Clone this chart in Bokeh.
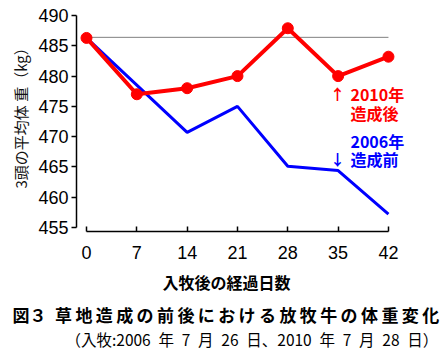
from bokeh.plotting import figure
from bokeh.models import Range1d, FixedTicker, Label, Title
from bokeh.embed import file_html
from bokeh.resources import INLINE

# ---- data ----
days_2010 = [0, 7, 14, 21, 28, 35, 42]
weight_2010 = [486.3, 477.0, 478.0, 480.0, 487.9, 480.0, 483.2]
days_2006 = [0, 14, 21, 28, 35, 42]
weight_2006 = [486.3, 470.7, 475.0, 465.1, 464.4, 457.2]
ref_days = [0, 42]
ref_weight = [486.4, 486.4]
x_ticks = [0, 7, 14, 21, 28, 35, 42]
y_ticks = [455, 460, 465, 470, 475, 480, 485, 490]

W, H = 441, 356
p = figure(width=W, height=H, output_backend="svg", toolbar_location=None,
           x_range=Range1d(-1.39, 44.51), y_range=Range1d(454.34, 490.83),
           min_border_left=76, min_border_right=35, min_border_top=10, min_border_bottom=125)
p.outline_line_color = None
p.xgrid.visible = False
p.ygrid.visible = False
p.background_fill_color = "white"
p.border_fill_color = "white"

cjk = "Noto Sans CJK JP"
num = "Liberation Sans"

xa = p.xaxis[0]
xa.ticker = FixedTicker(ticks=x_ticks)
xa.bounds = (0, 42)
xa.major_tick_in = 5
xa.major_tick_out = 0
xa.minor_tick_line_color = None
xa.axis_line_width = 1.5
xa.major_tick_line_width = 1.5
xa.axis_line_color = "black"
xa.major_tick_line_color = "black"
xa.major_label_text_font = num
xa.major_label_text_font_size = "18px"
xa.major_label_text_color = "black"
xa.major_label_standoff = 14

ya = p.yaxis[0]
ya.ticker = FixedTicker(ticks=y_ticks)
ya.bounds = (455, 490)
ya.major_tick_in = 0
ya.major_tick_out = 5
ya.minor_tick_line_color = None
ya.axis_line_width = 1.5
ya.major_tick_line_width = 1.5
ya.axis_line_color = "black"
ya.major_tick_line_color = "black"
ya.major_label_text_font = num
ya.major_label_text_font_size = "18px"
ya.major_label_text_color = "black"
ya.major_label_standoff = 3

# reference line
p.line(ref_days, ref_weight, line_color="#808080", line_width=1)
# 2006
p.line(days_2006, weight_2006, line_color="#0000ff", line_width=3)
# 2010
p.line(days_2010, weight_2010, line_color="#ff0000", line_width=4)
p.scatter(days_2010, weight_2010, size=11, fill_color="#ff0000", line_color="#ff0000")

def dx(ix):
    return (ix - 86) / 7.190

def dy(iy):
    return 490 - (iy - 15) / 6.057

def lab(text, ix, iy, size, color, align="left"):
    p.add_layout(Label(x=dx(ix), y=dy(iy), text=text, text_font=cjk,
                       text_font_size=size, text_color=color, text_align=align,
                       text_baseline="middle", text_font_style="bold"))

lab("↑", 337, 93, "15px", "#ff0000", align="center")
lab("2010年", 350, 93, "16px", "#ff0000")
lab("造成後", 350, 112, "16px", "#ff0000")
lab("2006年", 350, 140, "16px", "#0000ff")
lab("↓", 337, 158, "15px", "#0000ff", align="center")
lab("造成前", 350, 158, "16px", "#0000ff")

T = "\u2009"
caption = "図３\u2002" + T.join("草地造成の前後における放牧牛の体重変化")

# y axis label (left)
p.add_layout(Title(text="3頭の平均体 重（kg）", text_font=cjk, text_font_size="15px",
                   text_font_style="normal", text_color="#111111", align="left",
                   offset=43, standoff=10), "left")

# below: x label, caption, subtitle
p.add_layout(Title(text="入牧後の経過日数", text_font=cjk, text_font_size="16px",
                   text_font_style="bold", text_color="black", align="left",
                   offset=86, standoff=13), "below")
p.add_layout(Title(text=caption,
                   text_font=cjk, text_font_size="17px", text_font_style="bold",
                   text_color="black", align="left", offset=-64, standoff=-1), "below")
p.add_layout(Title(text="（入牧:2006\u2002年\u20027\u2002月\u200226\u2002日、2010\u2002年\u20027\u2002月\u200228\u2002日）",
                   text_font=cjk, text_font_size="15.5px", text_font_style="normal",
                   text_color="black", align="left", offset=-11, standoff=-2), "below")

open("out.html", "w").write(file_html(p, INLINE))
